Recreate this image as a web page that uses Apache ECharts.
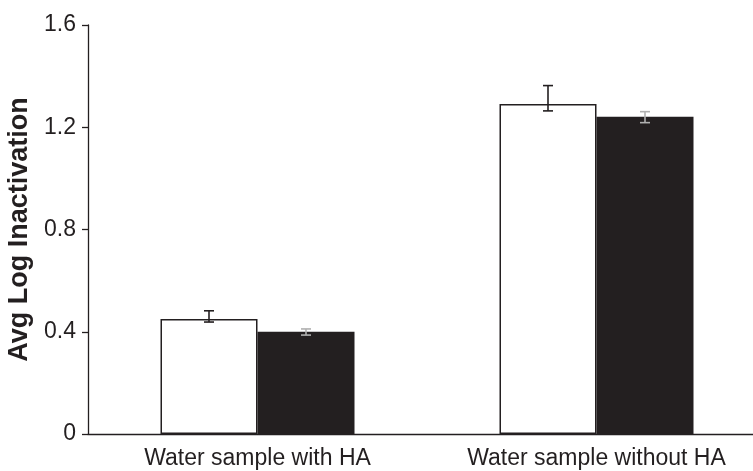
<!DOCTYPE html>
<html>
<head>
<meta charset="utf-8">
<script src="https://cdn.jsdelivr.net/npm/echarts@6/dist/echarts.min.js"></script>
<style>html,body{margin:0;padding:0;background:#fff;}#c{width:753px;height:471px;}</style>
</head>
<body>
<div id="c"></div>
<script>
var categories = ['Water sample with HA', 'Water sample without HA'];
var whiteValues = [0.450, 1.291];
var whiteErrLow = [0.438, 1.264];
var whiteErrHigh = [0.482, 1.363];
var blackValues = [0.400, 1.241];
var blackErrLow = [0.387, 1.218];
var blackErrHigh = [0.411, 1.261];
var yTicks = [0, 0.4, 0.8, 1.2, 1.6];

var BAR_W = 97;
var FONT = 'Liberation Sans, Arial, sans-serif';
var TXT = '#231f20';

function errSeries(low, high, offset, color) {
  var data = low.map(function (l, i) { return [i, l, high[i]]; });
  return {
    type: 'custom',
    z: 10,
    silent: true,
    data: data,
    renderItem: function (params, api) {
      var i = api.value(0);
      var p1 = api.coord([i, api.value(1)]);
      var p2 = api.coord([i, api.value(2)]);
      var x = p1[0] + offset;
      var cap = 5;
      var st = { stroke: color, lineWidth: 1.6 };
      return {
        type: 'group',
        children: [
          { type: 'line', shape: { x1: x, y1: p1[1], x2: x, y2: p2[1] }, style: st },
          { type: 'line', shape: { x1: x - cap, y1: p1[1], x2: x + cap, y2: p1[1] }, style: st },
          { type: 'line', shape: { x1: x - cap, y1: p2[1], x2: x + cap, y2: p2[1] }, style: st }
        ]
      };
    }
  };
}

var chart = echarts.init(document.getElementById('c'));
chart.setOption({
  animation: false,
  backgroundColor: '#fff',
  grid: { left: 88, top: 25, width: 678, height: 409, outerBoundsMode: 'none', containLabel: false },
  xAxis: {
    type: 'category',
    data: categories,
    axisLine: { lineStyle: { color: TXT, width: 1.3 } },
    axisTick: { length: 7, lineStyle: { color: TXT, width: 1.3 } },
    axisLabel: { color: TXT, fontFamily: FONT, fontSize: 23, margin: 13 }
  },
  yAxis: {
    type: 'value',
    min: 0, max: 1.6, interval: 0.4,
    name: 'Avg Log Inactivation',
    nameLocation: 'middle',
    nameGap: 50,
    nameTextStyle: { color: TXT, fontFamily: FONT, fontSize: 27, fontWeight: 'bold' },
    splitLine: { show: false },
    axisLine: { show: true, lineStyle: { color: TXT, width: 1.3 } },
    axisTick: { show: true, length: 6, lineStyle: { color: TXT, width: 1.3 } },
    axisLabel: {
      color: TXT, fontFamily: FONT, fontSize: 23, margin: 12,
      formatter: function (v) { return v === 0 ? '0' : v.toFixed(1); }
    }
  },
  series: [
    {
      type: 'bar', data: whiteValues, barWidth: BAR_W, barGap: '0%',
      itemStyle: { color: '#ffffff', borderColor: TXT, borderWidth: 1.5 }
    },
    {
      type: 'bar', data: blackValues, barWidth: BAR_W, barGap: '0%',
      itemStyle: { color: TXT, borderColor: TXT, borderWidth: 0 }
    },
    errSeries(whiteErrLow, whiteErrHigh, -BAR_W / 2, TXT),
    errSeries(blackErrLow, blackErrHigh, BAR_W / 2, '#b0b0b0')
  ]
});
</script>
</body>
</html>
